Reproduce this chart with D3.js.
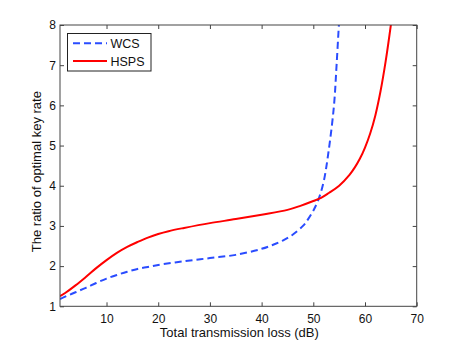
<!DOCTYPE html>
<html><head><meta charset="utf-8">
<script src="https://cdn.jsdelivr.net/npm/d3@7"></script>
<style>body{margin:0;background:#fff}svg{display:block}text{font-family:"Liberation Sans",Arial,sans-serif;fill:#111}</style>
</head><body><svg id="c" width="460" height="346"></svg>
<script>
const wcsX = [1,2,4,6,8,10,12,14,16,18,20,25,30,35,40,42,44,46,48,49,50,51,52,53,54,54.5,55,55.3];
const wcsY = [1.18,1.24,1.35,1.46,1.58,1.69,1.78,1.86,1.93,1.98,2.03,2.12,2.2,2.28,2.43,2.52,2.63,2.78,3.0,3.17,3.38,3.66,4.1,4.9,6.0,7.0,8.1,8.6];
const hspsX = [1,2,4,6,8,10,12,14,16,18,20,22,25,30,35,40,45,47.5,50,51.5,53,55,57,58,59,60,61,62,63,64,65,65.5];
const hspsY = [1.25,1.33,1.52,1.73,1.95,2.15,2.33,2.48,2.6,2.71,2.8,2.87,2.95,3.07,3.17,3.28,3.40,3.5,3.62,3.7,3.82,4.0,4.27,4.45,4.67,4.95,5.3,5.75,6.35,7.1,8.0,8.5];
const xTicks = [10,20,30,40,50,60,70];
const yTicks = [1,2,3,4,5,6,7,8];
const seriesNames = ["WCS","HSPS"];
const xLabel = "Total transmission loss (dB)";
const yLabel = "The ratio of optimal key rate";

const L=60,R=416.7,T=25,B=306.3;
const svg=d3.select("#c");
const x=d3.scaleLinear().domain([1,70]).range([L,R]);
const y=d3.scaleLinear().domain([1,8]).range([B,T]);
svg.append("defs").append("clipPath").attr("id","clip").append("rect").attr("x",L).attr("y",T).attr("width",R-L).attr("height",B-T);
const line=d3.line().x(d=>x(d[0])).y(d=>y(d[1])).curve(d3.curveCatmullRom.alpha(0.5));
const g=svg.append("g").attr("clip-path","url(#clip)");
g.append("path").datum(wcsX.map((v,i)=>[v,wcsY[i]])).attr("d",line).attr("fill","none").attr("stroke","#2a4cff").attr("stroke-width",2).attr("stroke-dasharray","7,4");
g.append("path").datum(hspsX.map((v,i)=>[v,hspsY[i]])).attr("d",line).attr("fill","none").attr("stroke","#ff0000").attr("stroke-width",2);

const ac="#444";
function ax(axis,tr){const a=svg.append("g").attr("transform",tr).call(axis);a.select(".domain").remove();a.selectAll("line").attr("stroke",ac);a.selectAll("text").style("font-size","12px").attr("fill","#111");return a;}
ax(d3.axisBottom(x).tickValues(xTicks).tickFormat(d3.format("d")).tickSize(-4).tickPadding(8),`translate(0,${B})`);
ax(d3.axisTop(x).tickValues(xTicks).tickSize(-4).tickFormat(""),`translate(0,${T})`);
ax(d3.axisLeft(y).tickValues(yTicks).tickFormat(d3.format("d")).tickSize(-4).tickPadding(4),`translate(${L},0)`);
ax(d3.axisRight(y).tickValues(yTicks).tickSize(-4).tickFormat(""),`translate(${R},0)`);
svg.append("rect").attr("x",L).attr("y",T).attr("width",R-L).attr("height",B-T).attr("fill","none").attr("stroke",ac).attr("stroke-width",1);

svg.append("text").attr("x",(L+R)/2+1).attr("y",336.5).attr("text-anchor","middle").style("font-size","13px").text(xLabel);
svg.append("text").attr("transform",`translate(41,${(T+B)/2+6}) rotate(-90)`).attr("text-anchor","middle").style("font-size","13px").text(yLabel);

const lg=svg.append("g");
lg.append("rect").attr("x",67.5).attr("y",33.5).attr("width",83.5).attr("height",37.5).attr("fill","#fff").attr("stroke","#222");
[["#2a4cff","7,4",43.3],["#ff0000",null,61]].forEach((s,i)=>{
  lg.append("line").attr("x1",73).attr("x2",107).attr("y1",s[2]).attr("y2",s[2]).attr("stroke",s[0]).attr("stroke-width",2).attr("stroke-dasharray",s[1]);
  lg.append("text").attr("x",110.5).attr("y",s[2]+4.5).style("font-size","12.5px").text(seriesNames[i]);
});
</script></body></html>
